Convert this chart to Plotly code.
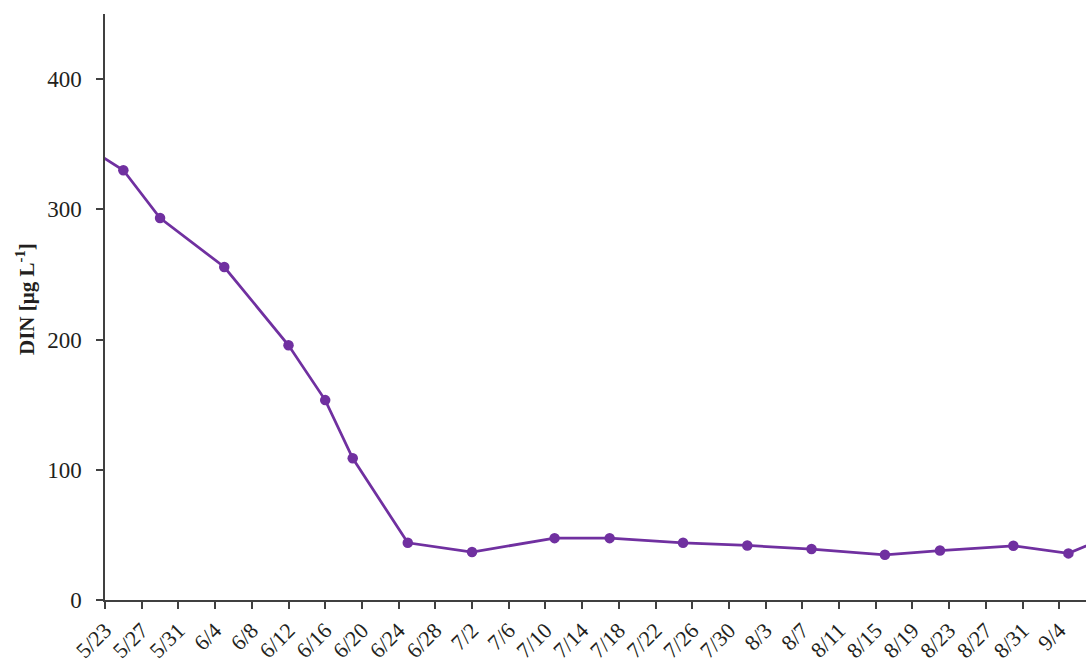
import plotly.graph_objects as go

# Sampling dates and DIN concentrations (µg/L)
dates = ['2021-05-18', '2021-05-25', '2021-05-29', '2021-06-05', '2021-06-12',
         '2021-06-16', '2021-06-19', '2021-06-25', '2021-07-02', '2021-07-11',
         '2021-07-17', '2021-07-25', '2021-08-01', '2021-08-08', '2021-08-16',
         '2021-08-22', '2021-08-30', '2021-09-05', '2021-09-09']
din = [361.5, 330, 293.3, 255.7, 195.6,
       153.5, 108.8, 43.9, 36.8, 47.5,
       47.5, 43.9, 41.9, 39.1, 34.7,
       38.0, 41.6, 35.8, 47.6]

y_ticks = [0, 100, 200, 300, 400]
y_title = '<b>DIN [µg L<sup>-1</sup>]</b>'

purple = '#7030A0'
axis_col = '#404040'
text_col = '#231f20'
font_fam = 'Liberation Serif'

fig = go.Figure()
fig.add_trace(go.Scatter(
    x=dates, y=din, mode='lines+markers',
    line=dict(color=purple, width=2.75),
    marker=dict(color=purple, size=10.5),
    showlegend=False,
))

fig.update_layout(
    width=1086, height=660,
    margin=dict(l=105, r=0, t=14, b=60),
    plot_bgcolor='white', paper_bgcolor='white',
    font=dict(family=font_fam, size=22, color=text_col),
)

fig.update_xaxes(
    type='date',
    range=['2021-05-23', '2021-09-06 22:00'],
    tick0='2021-05-23', dtick=4 * 86400000,
    tickformat='%-m/%-d', tickangle=-45,
    showgrid=False, zeroline=False, automargin=False,
    showline=True, linecolor=axis_col, linewidth=1.5,
    ticks='outside', ticklen=7, tickcolor=axis_col, tickwidth=1.5,
    tickfont=dict(family=font_fam, size=22, color=text_col),
)

fig.update_yaxes(
    range=[0, 450],
    tickvals=y_ticks, ticktext=[str(v) for v in y_ticks],
    showgrid=False, zeroline=False, automargin=False,
    showline=True, linecolor=axis_col, linewidth=1.5,
    ticks='outside', ticklen=7, tickcolor=axis_col, tickwidth=1.5,
    ticklabelstandoff=10,
    tickfont=dict(family=font_fam, size=23, color=text_col),
)

fig.add_annotation(
    text=y_title, xref='paper', yref='paper',
    x=-(105 - 25) / 981, y=(600 - 299) / 586,
    xanchor='center', yanchor='middle', textangle=-90, showarrow=False,
    font=dict(family=font_fam, size=21, color=text_col),
)

fig.write_html('out.html', config={'displayModeBar': False})

# remove the browser's default body margin so the figure sits at the page origin
with open('out.html', encoding='utf-8') as f:
    html = f.read()
html = html.replace('<head>', '<head><style>html,body{margin:0;padding:0;overflow:hidden;}</style>', 1)
with open('out.html', 'w', encoding='utf-8') as f:
    f.write(html)
